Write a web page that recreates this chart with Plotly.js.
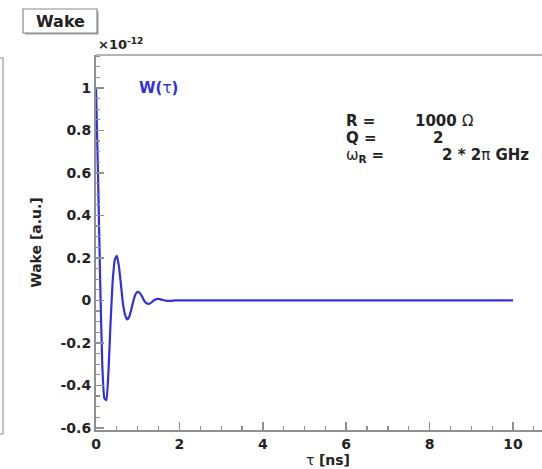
<!DOCTYPE html>
<html>
<head>
<meta charset="utf-8">
<script src="https://cdn.plot.ly/plotly-3.0.1.min.js"></script>
<style>
  html, body { margin: 0; padding: 0; overflow: hidden; background: #fff; }
  #chart { width: 560px; height: 469px; }
</style>
</head>
<body>
<div id="chart"></div>
<script>
// Resonator wake W(tau), in units of 1e-12
const tauNs = [0, 0.05, 0.10, 0.15, 0.20, 0.25, 0.30, 0.35, 0.40, 0.45, 0.50, 0.55, 0.60, 0.65, 0.70, 0.75,
               0.80, 0.85, 0.90, 0.95, 1.00, 1.05, 1.10, 1.15, 1.20, 1.25, 1.30, 1.35, 1.40, 1.45, 1.50,
               1.55, 1.60, 1.70, 1.80, 1.90, 2.0, 10];
const wakeValues = [1.0, 0.58, 0.09, -0.30, -0.46, -0.47, -0.33, -0.10, 0.09, 0.19, 0.21, 0.16, 0.07, -0.02, -0.07, -0.09,
                    -0.075, -0.04, 0.0, 0.03, 0.04, 0.035, 0.02, 0.0, -0.012, -0.016, -0.014, -0.006, 0.002, 0.006, 0.007,
                    0.005, 0.002, -0.002, -0.002, 0.0, 0.0, 0.0];

const xTickLabels = ['0', '2', '4', '6', '8', '10'];
const yTickLabels = ['-0.6', '-0.4', '-0.2', '0', '0.2', '0.4', '0.6', '0.8', '1'];

const paramNames = ['<b>R =</b>', '<b>Q =</b>', 'ω<sub><b>R</b></sub> <b>=</b>'];
const paramValues = ['<b>1000 </b>Ω', '<b>2</b>', '<b>2 * 2</b>π<b> GHz</b>'];

// frame geometry (pixels)
const L = 96, T = 55, W = 464, H = 375;
const pxX = x => (x - L) / W;
const pxY = y => (T + H - y) / H;

const FONT = 'DejaVu Sans, Liberation Sans, Arial, sans-serif';
const AXIS_COLOR = '#8f8f8f';

const trace = {
  x: tauNs,
  y: wakeValues,
  type: 'scatter',
  mode: 'lines',
  line: { color: '#3030e0', width: 2.2, shape: 'spline', smoothing: 0.4 },
  hoverinfo: 'x+y'
};

const paramRowsY = [121, 138, 155];
const paramValueX = [413, 431, 440];

const annotations = [
  // pad title
  { xref: 'paper', yref: 'paper', x: pxX(60), y: pxY(21.5), xanchor: 'center', yanchor: 'middle',
    text: '<b>Wake</b>', showarrow: false, font: { family: FONT, size: 16, color: '#222' } },
  // exponent label of the y axis
  { xref: 'paper', yref: 'paper', x: pxX(96), y: pxY(44), xanchor: 'left', yanchor: 'middle',
    text: '<b>×10</b><sup><b>-12</b></sup>', showarrow: false, font: { family: FONT, size: 13, color: '#222' } },
  // curve label
  { xref: 'paper', yref: 'paper', x: pxX(137), y: pxY(88), xanchor: 'left', yanchor: 'middle',
    text: '<b>W(</b>τ<b>)</b>', showarrow: false, font: { family: FONT, size: 15, color: '#3030e0' } }
];

paramNames.forEach((name, i) => {
  annotations.push({ xref: 'paper', yref: 'paper', x: pxX(344), y: pxY(paramRowsY[i]), xanchor: 'left', yanchor: 'middle',
    text: name, showarrow: false, font: { family: FONT, size: 15, color: '#222' } });
  annotations.push({ xref: 'paper', yref: 'paper', x: pxX(paramValueX[i]), y: pxY(paramRowsY[i]), xanchor: 'left', yanchor: 'middle',
    text: paramValues[i], showarrow: false, font: { family: FONT, size: 15, color: '#222' } });
});

const shapes = [
  // neighbouring pad edge on the left
  { type: 'rect', xref: 'paper', yref: 'paper', x0: pxX(-10), x1: pxX(3), y0: pxY(434), y1: pxY(58),
    line: { color: '#b0b0b0', width: 1.5 }, fillcolor: 'rgba(0,0,0,0)' },
  // title box shadow and box
  { type: 'rect', xref: 'paper', yref: 'paper', x0: pxX(25), x1: pxX(98.5), y0: pxY(34.5), y1: pxY(11),
    line: { width: 0 }, fillcolor: '#a0a0a0' },
  { type: 'rect', xref: 'paper', yref: 'paper', x0: pxX(23), x1: pxX(97), y0: pxY(33), y1: pxY(9),
    line: { color: '#8a8a8a', width: 1.2 }, fillcolor: '#fff' },
  // top edge of the frame
  { type: 'line', xref: 'paper', yref: 'paper', x0: 0, x1: 1.2, y0: 1, y1: 1,
    line: { color: '#b5b5b5', width: 2 } }
];

const layout = {
  width: 560,
  height: 469,
  margin: { l: L, r: 560 - L - W, t: T, b: 469 - T - H, pad: 0 },
  paper_bgcolor: '#fff',
  plot_bgcolor: '#fff',
  showlegend: false,
  font: { family: FONT, color: '#222' },
  xaxis: {
    range: [0, W / 41.7],
    tickmode: 'array',
    tickvals: xTickLabels.map(Number),
    ticktext: xTickLabels.map(s => '<b>' + s + '</b>'),
    ticks: 'inside', ticklen: 8, tickwidth: 1.5, tickcolor: AXIS_COLOR,
    minor: { dtick: 0.5, tick0: 0, ticks: 'inside', ticklen: 4, tickwidth: 1.2, tickcolor: AXIS_COLOR, showgrid: false },
    showline: true, linecolor: AXIS_COLOR, linewidth: 2,
    showgrid: false, zeroline: false,
    tickfont: { family: FONT, size: 14, color: '#222' },
    title: { text: 'τ <b>[ns]</b>', font: { family: FONT, size: 14, color: '#222' }, standoff: 3 },
    fixedrange: true
  },
  yaxis: {
    range: [-0.61, 1.155],
    tickmode: 'array',
    tickvals: yTickLabels.map(Number),
    ticktext: yTickLabels.map(s => '<b>' + s + '</b>'),
    ticks: 'inside', ticklen: 8, tickwidth: 1.5, tickcolor: AXIS_COLOR,
    minor: { dtick: 0.05, tick0: 0, ticks: 'inside', ticklen: 4, tickwidth: 1.2, tickcolor: AXIS_COLOR, showgrid: false },
    showline: true, linecolor: AXIS_COLOR, linewidth: 2,
    showgrid: false, zeroline: false,
    tickfont: { family: FONT, size: 14, color: '#222' },
    title: { text: '<b>Wake [a.u.]</b>', font: { family: FONT, size: 14, color: '#222' }, standoff: 16 },
    fixedrange: true
  },
  annotations: annotations,
  shapes: shapes
};

Plotly.newPlot('chart', [trace], layout, { displayModeBar: false, staticPlot: true });
</script>
</body>
</html>
